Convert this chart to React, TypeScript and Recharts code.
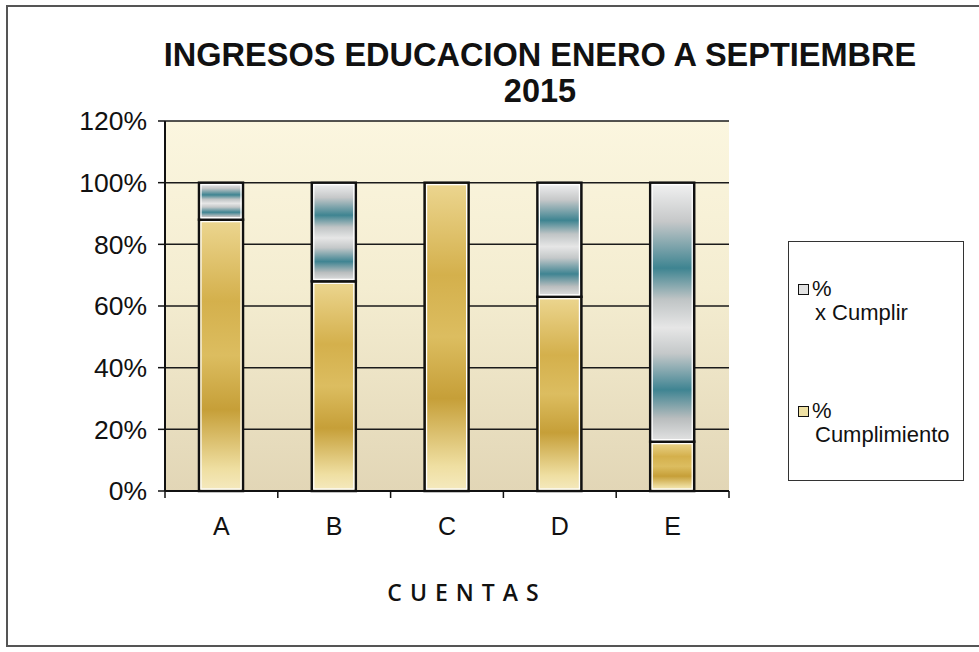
import React from 'react';
import { Bar, BarChart, CartesianGrid, Legend, XAxis, YAxis } from 'recharts';

const categories = ['A', 'B', 'C', 'D', 'E'];
const cumplimiento = [0.88, 0.68, 1.0, 0.63, 0.16];
const xCumplir = [0.12, 0.32, 0, 0.37, 0.84];
const yTicks = [0, 0.2, 0.4, 0.6, 0.8, 1.0, 1.2];

const chartData = categories.map((name, i) => ({
  name,
  cumplimiento: cumplimiento[i],
  xCumplir: xCumplir[i],
}));

const FONT = '"Liberation Sans", Arial, sans-serif';
const X_TICK_MARGIN = 26;
const X_TICK_LEN = 7;

// bar with black outline and thin white inner edge, like the Excel original
const BarShape = (props: any) => {
  const { x, y, width, height, fill } = props;
  if (!height || height <= 0) return null;
  return (
    <g>
      <rect x={x} y={y} width={width} height={height} fill={fill} stroke="#111" strokeWidth={2.5} />
      <rect
        x={x + 2}
        y={y + 2}
        width={Math.max(width - 4, 0)}
        height={Math.max(height - 4, 0)}
        fill="none"
        stroke="#fff"
        strokeWidth={1.2}
      />
    </g>
  );
};

// category label in the middle, tick marks on the category edges (Excel style)
const CategoryTick = (props: any) => {
  const { x, y, payload, index, visibleTicksCount } = props;
  const half = payload?.offset ?? 0;
  const axisY = y - X_TICK_MARGIN;
  const isLast = index === visibleTicksCount - 1;
  return (
    <g>
      <line x1={x - half} x2={x - half} y1={axisY} y2={axisY + X_TICK_LEN} stroke="#111" strokeWidth={1.5} />
      {isLast && (
        <line x1={x + half} x2={x + half} y1={axisY} y2={axisY + X_TICK_LEN} stroke="#111" strokeWidth={1.5} />
      )}
      <text x={x} y={y} dy="0.71em" textAnchor="middle" fill="#111" fontSize={25} fontFamily={FONT}>
        {payload.value}
      </text>
    </g>
  );
};

const legendMarker: Record<string, string> = {
  xCumplir: '#e2e2e2',
  cumplimiento: '#efe1a4',
};

const LegendBox = ({ payload }: any) => {
  const items = [...(payload || [])].reverse();
  return (
    <div
      style={{
        width: 176,
        height: 240,
        boxSizing: 'border-box',
        border: '1.5px solid #333',
        background: '#fff',
        fontFamily: FONT,
        fontSize: 22,
        color: '#111',
        paddingLeft: 9,
        paddingTop: 35,
      }}
    >
      {items.map((item: any) => {
        const [first, ...rest] = String(item.value).split('\n');
        return (
          <div key={item.dataKey} style={{ height: 122, lineHeight: '24px' }}>
            <div style={{ display: 'flex', alignItems: 'center' }}>
              <span
                style={{
                  display: 'inline-block',
                  width: 9,
                  height: 9,
                  border: '1.5px solid #111',
                  background: legendMarker[item.dataKey],
                  marginRight: 3,
                }}
              />
              <span>{first}</span>
            </div>
            <div style={{ paddingLeft: 17 }}>{rest.join(' ')}</div>
          </div>
        );
      })}
    </div>
  );
};

export default function App() {
  return (
    <div
      style={{
        position: 'absolute',
        left: 0,
        top: 0,
        width: 979,
        height: 652,
        overflow: 'hidden',
        background: '#fff',
      }}
    >
      <div
        style={{
          position: 'absolute',
          left: 100,
          top: 37,
          width: 880,
          textAlign: 'center',
          fontFamily: FONT,
          fontWeight: 'bold',
          fontSize: 32.5,
          lineHeight: '36px',
          color: '#111',
        }}
      >
        INGRESOS EDUCACION ENERO A SEPTIEMBRE
        <br />
        2015
      </div>
      <div
        style={{
          position: 'absolute',
          left: 347,
          top: 576,
          width: 240,
          textAlign: 'center',
          fontFamily: '"Open Sans", sans-serif',
          fontWeight: 600,
          fontSize: 23,
          letterSpacing: 8,
          color: '#111',
        }}
      >
        CUENTAS
      </div>
      <div style={{ position: 'absolute', left: 0, top: 0 }}>
        <BarChart
          width={979}
          height={652}
          data={chartData}
          margin={{ top: 121, right: 250, bottom: 121, left: 0 }}
        >
          <defs>
            <linearGradient id="plotBg" x1="0" y1="0" x2="0" y2="1">
              <stop offset="0%" stopColor="#fbf6df" />
              <stop offset="45%" stopColor="#f4edd1" />
              <stop offset="100%" stopColor="#e2d6b6" />
            </linearGradient>
            <linearGradient id="goldFill" x1="0" y1="0" x2="0" y2="1">
              <stop offset="0%" stopColor="#ecd690" />
              <stop offset="30%" stopColor="#d4b04c" />
              <stop offset="50%" stopColor="#dcbd60" />
              <stop offset="70%" stopColor="#c69f38" />
              <stop offset="92%" stopColor="#efdfa2" />
              <stop offset="100%" stopColor="#f5eac0" />
            </linearGradient>
            <linearGradient id="tealFill" x1="0" y1="0" x2="0" y2="1">
              <stop offset="0%" stopColor="#f2f2f2" />
              <stop offset="15%" stopColor="#c6c8c9" />
              <stop offset="33%" stopColor="#3e8491" />
              <stop offset="45%" stopColor="#bfc4c5" />
              <stop offset="56%" stopColor="#e6e6e6" />
              <stop offset="66%" stopColor="#c4c8c9" />
              <stop offset="80%" stopColor="#3f8492" />
              <stop offset="91%" stopColor="#b9bdbe" />
              <stop offset="100%" stopColor="#e4e4e4" />
            </linearGradient>
          </defs>
          <CartesianGrid
            vertical={false}
            stroke="#1a1a1a"
            strokeWidth={1.5}
            fill="url(#plotBg)"
            fillOpacity={1}
          />
          <XAxis
            dataKey="name"
            height={40}
            axisLine={{ stroke: '#111', strokeWidth: 2 }}
            tickLine={false}
            tickSize={0}
            tickMargin={X_TICK_MARGIN}
            tick={<CategoryTick />}
            interval={0}
          />
          <YAxis
            domain={[0, 1.2]}
            ticks={yTicks}
            width={165}
            axisLine={{ stroke: '#111', strokeWidth: 2 }}
            tickLine={{ stroke: '#111', strokeWidth: 1.5 }}
            tickSize={7}
            tickMargin={11}
            tick={{ fill: '#111', fontSize: 26.5, fontFamily: FONT }}
            tickFormatter={(v: number) => `${Math.round(v * 100)}%`}
          />
          <YAxis
            yAxisId="frame"
            orientation="right"
            width={0}
            domain={[0, 1.2]}
            tick={false}
            tickLine={false}
            axisLine={{ stroke: '#111', strokeWidth: 2 }}
          />
          <Legend
            layout="vertical"
            align="center"
            verticalAlign="middle"
            content={<LegendBox />}
            wrapperStyle={{ left: 788, top: 241, width: 176, height: 240 }}
          />
          <Bar
            dataKey="cumplimiento"
            name={'%\nCumplimiento'}
            stackId="s"
            barSize={44}
            fill="url(#goldFill)"
            shape={<BarShape />}
            isAnimationActive={false}
          />
          <Bar
            dataKey="xCumplir"
            name={'%\nx Cumplir'}
            stackId="s"
            barSize={44}
            fill="url(#tealFill)"
            shape={<BarShape />}
            isAnimationActive={false}
          />
        </BarChart>
      </div>
      <div
        style={{
          position: 'absolute',
          left: 6,
          top: 5,
          width: 990,
          height: 642,
          border: '2px solid #555',
          boxSizing: 'border-box',
          pointerEvents: 'none',
        }}
      />
    </div>
  );
}
